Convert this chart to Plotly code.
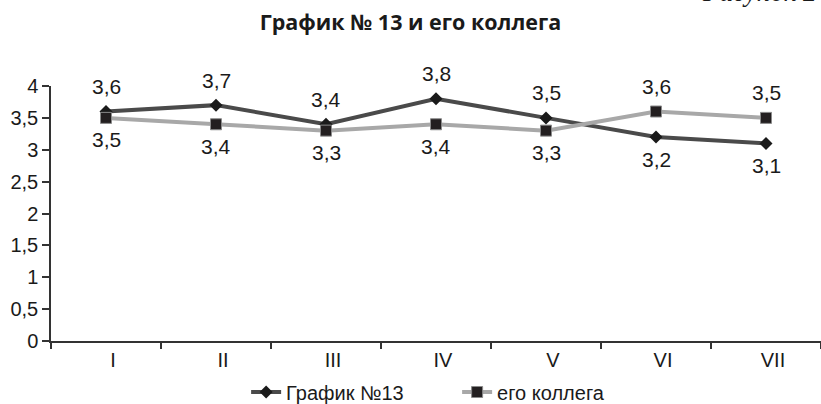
import plotly.graph_objects as go

categories = ["I", "II", "III", "IV", "V", "VI", "VII"]
series1_name = "График №13"
series1 = [3.6, 3.7, 3.4, 3.8, 3.5, 3.2, 3.1]
series1_label_pos = ["above", "above", "above", "above", "above", "below", "below"]
series2_name = "его коллега"
series2 = [3.5, 3.4, 3.3, 3.4, 3.3, 3.6, 3.5]
series2_label_pos = ["below", "below", "below", "below", "below", "above", "above"]
y_ticks = [0, 0.5, 1, 1.5, 2, 2.5, 3, 3.5, 4]

dark = "#4a4a4a"
light = "#a8a8a8"
font_family = "Liberation Sans, Arial, sans-serif"

fig = go.Figure()
fig.add_trace(go.Scatter(
    x=categories, y=series1, name=series1_name, mode="lines+markers",
    line=dict(color=dark, width=4),
    marker=dict(symbol="diamond", size=10, color="#1a1a1a", line=dict(color="#1a1a1a", width=0)),
))
fig.add_trace(go.Scatter(
    x=categories, y=series2, name=series2_name, mode="lines+markers",
    line=dict(color=light, width=4),
    marker=dict(symbol="square", size=11, color="#231f20", line=dict(color="#8a8a8a", width=1)),
))

annotations = []
for xs, ys, pos in [(categories, series1, series1_label_pos), (categories, series2, series2_label_pos)]:
    for c, v, p in zip(xs, ys, pos):
        annotations.append(dict(
            x=c, y=v, xref="x", yref="y", showarrow=False,
            text=f"{v:.1f}".replace(".", ","),
            font=dict(family=font_family, size=21, color="#1a1a1a"),
            yshift=25 if p == "above" else -22,
        ))

annotations.append(dict(
    x=1.0, xref="paper", xanchor="right", y=1.369, yref="paper", yanchor="middle",
    xshift=-2,
    text="<i>Рисунок 2</i>", showarrow=False,
    font=dict(family="Liberation Serif, Times New Roman, serif", size=27, color="#1a1a1a"),
))

fig.update_layout(
    width=821, height=404,
    margin=dict(l=51, r=0, t=86, b=63, autoexpand=False),
    paper_bgcolor="white", plot_bgcolor="white",
    separators=", ",
    title=dict(
        text="<b>График № 13 и его коллега</b>",
        x=0.5, xref="container", xanchor="center", y=0.9455, yanchor="middle",
        font=dict(family="Open Sans, sans-serif", size=21.5, color="#1a1a1a"),
    ),
    font=dict(family=font_family, size=20, color="#1a1a1a"),
    showlegend=True,
    legend=dict(
        orientation="h", x=0.2534, xanchor="left", y=-0.2, yanchor="middle",
        font=dict(family=font_family, size=20, color="#1a1a1a"),
        entrywidth=166, entrywidthmode="pixels", tracegroupgap=0,
    ),
    annotations=annotations,
)
fig.update_xaxes(
    type="category", tickmode="array", tickvals=categories, ticktext=categories,
    range=[-0.5, 6.5], automargin=False,
    showline=True, linecolor="#333333", linewidth=1.5,
    ticks="outside", tickson="boundaries", ticklen=6, tickcolor="#333333", tickwidth=1.5,
    showgrid=False, zeroline=False, ticklabelshift=7,
    tickfont=dict(family=font_family, size=20),
)
fig.update_yaxes(
    range=[0, 4], tickmode="array", tickvals=y_ticks, automargin=False,
    showline=True, linecolor="#333333", linewidth=1.5,
    ticks="outside", ticklen=7, tickcolor="#333333", tickwidth=1.5,
    showgrid=False, zeroline=False,
    tickfont=dict(family=font_family, size=20),
)

fig.write_html(
    "out.html",
    config={"displayModeBar": False},
    post_script="document.body.style.margin='0';document.body.style.overflow='hidden';",
)
